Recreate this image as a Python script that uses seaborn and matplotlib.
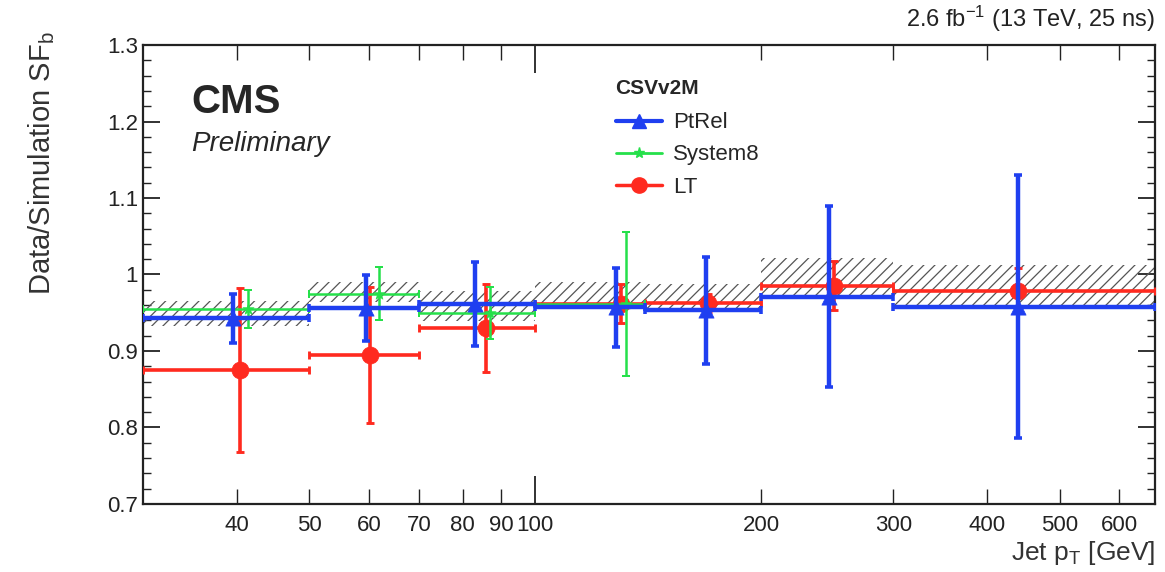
import numpy as np
import pandas as pd
import matplotlib
matplotlib.use("Agg")
import matplotlib.pyplot as plt
from matplotlib.lines import Line2D
from matplotlib.ticker import FixedLocator, FixedFormatter, MultipleLocator
import seaborn as sns

# bins in jet pT [GeV]
bin_lo = [30, 50, 70, 100, 140, 200, 300]
bin_hi = [50, 70, 100, 140, 200, 300, 670]

# combined SF band (lower / upper edge)
comb_lo = [0.932, 0.964, 0.939, 0.955, 0.954, 0.971, 0.958]
comb_hi = [0.965, 0.990, 0.978, 0.990, 0.987, 1.022, 1.013]

# PtRel
ptrel_x = [39.5, 59.5, 83, 128, 169, 246, 440]
ptrel_sf = [0.943, 0.956, 0.961, 0.957, 0.953, 0.971, 0.958]
ptrel_err = [0.032, 0.043, 0.055, 0.052, 0.070, 0.118, 0.172]

# System8
s8_x = [41.4, 62, 87, 132]
s8_sf = [0.955, 0.975, 0.949, 0.961]
s8_err = [0.025, 0.035, 0.034, 0.094]

# LT
lt_x = [40.4, 60.2, 86, 130, 170, 250, 440]
lt_sf = [0.875, 0.895, 0.930, 0.962, 0.963, 0.985, 0.979]
lt_err = [0.107, 0.089, 0.058, 0.025, 0.012, 0.032, 0.030]

x_ticks = [40, 50, 60, 70, 80, 90, 200, 300, 400, 500, 600]

C_BLUE = "#1f3ff0"
C_GREEN = "#25e04a"
C_RED = "#ff2a1f"

sns.set_style("ticks")
plt.rcParams['font.family'] = ['Liberation Sans', 'DejaVu Sans']
plt.rcParams['mathtext.fontset'] = 'custom'
plt.rcParams['mathtext.rm'] = 'Liberation Sans'
plt.rcParams['mathtext.it'] = 'Liberation Sans:italic'
plt.rcParams['hatch.linewidth'] = 0.9
plt.rcParams['hatch.color'] = "#555555"

fig = plt.figure(figsize=(11.65, 5.72), dpi=100)
ax = fig.add_axes([0.1227, 0.119, 0.8687, 0.8023])

# hatched combined band
for lo, hi, a, b in zip(bin_lo, bin_hi, comb_lo, comb_hi):
    ax.fill_between([lo, hi], [a, a], [b, b], facecolor="none",
                    edgecolor="#555555", hatch="///", linewidth=0, zorder=1)


def draw_set(xs, sf, err, n, color, marker, ms, lw, z):
    lo = np.array(bin_lo[:n])
    hi = np.array(bin_hi[:n])
    xs = np.array(xs)
    xerr = [xs - lo, hi - xs]
    ax.errorbar(xs, sf, yerr=err, xerr=xerr, fmt="none", ecolor=color,
                elinewidth=lw, capsize=3, capthick=lw * 0.8, zorder=z)
    df = pd.DataFrame({"pt": xs, "sf": sf})
    sns.scatterplot(data=df, x="pt", y="sf", ax=ax, marker=marker, s=ms,
                    color=color, edgecolor=color, linewidth=0.5, zorder=z + 0.5,
                    legend=False)


draw_set(lt_x, lt_sf, lt_err, 7, C_RED, "o", 150, 2.6, 3)
draw_set(s8_x, s8_sf, s8_err, 4, C_GREEN, "*", 70, 1.8, 4)
draw_set(ptrel_x, ptrel_sf, ptrel_err, 7, C_BLUE, "^", 120, 3.2, 5)

ax.set_xscale("log")
ax.set_xlim(30, 670)
ax.set_ylim(0.7, 1.3)

ax.xaxis.set_major_locator(FixedLocator([100]))
ax.xaxis.set_major_formatter(FixedFormatter(["100"]))
ax.xaxis.set_minor_locator(FixedLocator(x_ticks))
ax.xaxis.set_minor_formatter(FixedFormatter([str(v) for v in x_ticks]))
ax.set_yticks([0.7, 0.8, 0.9, 1.0, 1.1, 1.2, 1.3])
ax.set_yticklabels(["0.7", "0.8", "0.9", "1", "1.1", "1.2", "1.3"])
ax.yaxis.set_minor_locator(MultipleLocator(0.02))

ax.tick_params(which="both", direction="in", top=True, right=True,
               labelsize=16, colors="#222222")
ax.tick_params(which="major", length=12, width=1.3)
ax.tick_params(which="minor", length=6, width=1.0)
ax.tick_params(axis="x", which="major", length=20, pad=8)
ax.tick_params(axis="x", which="minor", length=11, pad=8)
for s in ax.spines.values():
    s.set_linewidth(1.6)
    s.set_color("#222222")

ax.set_xlabel(r"Jet p$_\mathrm{T}$ [GeV]", fontsize=19, loc="right",
              color="#333333", labelpad=2)
ax.set_ylabel(r"Data/Simulation SF$_\mathrm{b}$", fontsize=21, color="#333333",
              ha="right")
ax.yaxis.set_label_coords(-0.085, 1.03)

ax.text(0.048, 0.875, "CMS", transform=ax.transAxes, fontsize=29,
        fontweight="bold", va="center")
ax.text(0.048, 0.785, "Preliminary", transform=ax.transAxes, fontsize=20,
        style="italic", va="center")
ax.text(1.0, 1.025, r"2.6 fb$^{-1}$ (13 TeV, 25 ns)", transform=ax.transAxes,
        fontsize=17, ha="right", va="bottom", color="#222222")

handles = [
    Line2D([], [], color=C_BLUE, lw=3, marker="^", ms=10),
    Line2D([], [], color=C_GREEN, lw=2, marker="*", ms=8),
    Line2D([], [], color=C_RED, lw=2.5, marker="o", ms=11),
]
leg = ax.legend(handles, ["PtRel", "System8", "LT"], title="CSVv2M",
                loc="upper left", bbox_to_anchor=(0.467, 0.925), frameon=False,
                fontsize=16, handlelength=2.1, labelspacing=0.5,
                handletextpad=0.5, borderpad=0, borderaxespad=0)
leg.get_title().set_fontweight("bold")
leg.get_title().set_fontsize(15)
leg._legend_box.align = "left"
leg._legend_box.sep = 10

fig.savefig("out.png", dpi=100)
